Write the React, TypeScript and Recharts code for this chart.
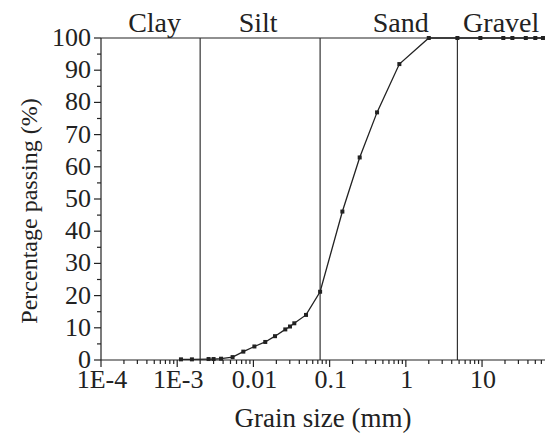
import React from 'react';
import { LineChart, Line, XAxis, YAxis, ReferenceLine, ReferenceArea, Label } from 'recharts';

// grain sizes (mm) and % passing
const grainSizes = [
  0.00112, 0.00156, 0.00258, 0.003, 0.00376, 0.00533, 0.00737, 0.0103, 0.0143, 0.0192,
  0.0262, 0.0302, 0.0344, 0.049, 0.075, 0.147, 0.248, 0.419, 0.822, 2, 4.75, 9.5, 19, 25,
  37.5, 50, 63,
];
const passing = [
  0.2, 0.2, 0.3, 0.3, 0.4, 0.9, 2.6, 4.2, 5.6, 7.4, 9.5, 10.4, 11.4, 14.0, 21.2, 46.1, 62.9,
  76.9, 91.9, 100, 100, 100, 100, 100, 100, 100, 100,
];

const zoneNames = ['Clay', 'Silt', 'Sand', 'Gravel'];
const zoneBounds = [0.0001, 0.002, 0.075, 4.75, 67];
const zoneLabelShift = [4, -2, 12, 0];

const xMajorTicks = [0.0001, 0.001, 0.01, 0.1, 1, 10];
const xTickLabels = ['1E-4', '1E-3', '0.01', '0.1', '1', '10'];
const yMajorTicks = [0, 10, 20, 30, 40, 50, 60, 70, 80, 90, 100];

const FONT = '"Liberation Serif", "Times New Roman", serif';
const INK = '#222';

const data = grainSizes.map((size, i) => ({ size, pct: passing[i] }));

const xMinorTicks = xMajorTicks.flatMap(d => [2, 3, 4, 5, 6, 7, 8, 9].map(m => +(d * m).toPrecision(3))).filter(v => v <= 67);
const xTicks = [...xMajorTicks, ...xMinorTicks].sort((a, b) => a - b);
const yTicks = yMajorTicks.flatMap(v => (v < 100 ? [v, v + 5] : [v]));

const XTick = (props: any) => {
  const { x, y, payload } = props;
  const idx = xMajorTicks.findIndex(v => Math.abs(v - payload.value) / v < 1e-6);
  const major = idx >= 0;
  return (
    <g>
      <line x1={x} x2={x} y1={y} y2={y + (major ? 7 : 4)} stroke={INK} strokeWidth={1.2} />
      {major && (
        <text x={x + 1} y={y + 28} textAnchor="middle" fontFamily={FONT} fontSize={26} fill={INK}>
          {xTickLabels[idx]}
        </text>
      )}
    </g>
  );
};

const YTick = (props: any) => {
  const { x, y, payload } = props;
  const major = payload.value % 10 === 0;
  return (
    <g>
      <line x1={x} x2={x - (major ? 7 : 4)} y1={y} y2={y} stroke={INK} strokeWidth={1.2} />
      {major && (
        <text x={x - 10} y={y + 8} textAnchor="end" fontFamily={FONT} fontSize={26} fill={INK}>
          {payload.value}
        </text>
      )}
    </g>
  );
};

const SquareDot = (props: any) => {
  const { cx, cy } = props;
  if (cx == null || cy == null) return null;
  return <rect x={cx - 2} y={cy - 2} width={4} height={4} fill={INK} />;
};

export default function App() {
  return (
    <div style={{ position: 'absolute', left: 0, top: 0, background: '#fff' }}>
      <LineChart width={545} height={434} data={data} margin={{ top: 38, right: 0, bottom: 0, left: 0 }}>
        <XAxis
          dataKey="size"
          type="number"
          scale="log"
          domain={[0.0001, 67]}
          allowDataOverflow
          ticks={xTicks}
          interval={0}
          tick={<XTick />}
          tickLine={false}
          tickSize={0}
          tickMargin={0}
          height={74}
          axisLine={{ stroke: INK, strokeWidth: 1.2 }}
        >
          <Label
            value="Grain size (mm)"
            position="insideBottom"
            offset={7}
            style={{ fontFamily: FONT, fontSize: 27, fill: INK }}
          />
        </XAxis>
        <YAxis
          type="number"
          domain={[0, 100]}
          ticks={yTicks}
          interval={0}
          tick={<YTick />}
          tickLine={false}
          tickSize={0}
          tickMargin={0}
          width={101}
          axisLine={{ stroke: INK, strokeWidth: 1.2 }}
        >
          <Label
            content={(p: any) => {
              const vb = p.viewBox;
              const cy = vb.y + vb.height / 2 + 12;
              return (
                <text
                  x={29}
                  y={cy}
                  transform={`rotate(-90, 29, ${cy})`}
                  textAnchor="middle"
                  dominantBaseline="central"
                  fontFamily={FONT}
                  fontSize={24}
                  fill={INK}
                >
                  Percentage passing (%)
                </text>
              );
            }}
          />
        </YAxis>
        {zoneNames.map((name, i) => (
          <ReferenceArea
            key={name}
            x1={zoneBounds[i]}
            x2={zoneBounds[i + 1]}
            y1={0}
            y2={100}
            fill="none"
            fillOpacity={0}
            stroke="none"
            label={{ value: name, position: 'top', offset: 6, dx: zoneLabelShift[i], fontFamily: FONT, fontSize: 28, fill: INK }}
          />
        ))}
        <ReferenceLine y={100} stroke={INK} strokeWidth={1.2} />
        {zoneBounds.slice(1, 4).map(b => (
          <ReferenceLine key={b} x={b} stroke="#333" strokeWidth={1.2} />
        ))}
        <Line
          dataKey="pct"
          stroke={INK}
          strokeWidth={1.3}
          dot={<SquareDot />}
          activeDot={false}
          isAnimationActive={false}
        />
      </LineChart>
    </div>
  );
}
